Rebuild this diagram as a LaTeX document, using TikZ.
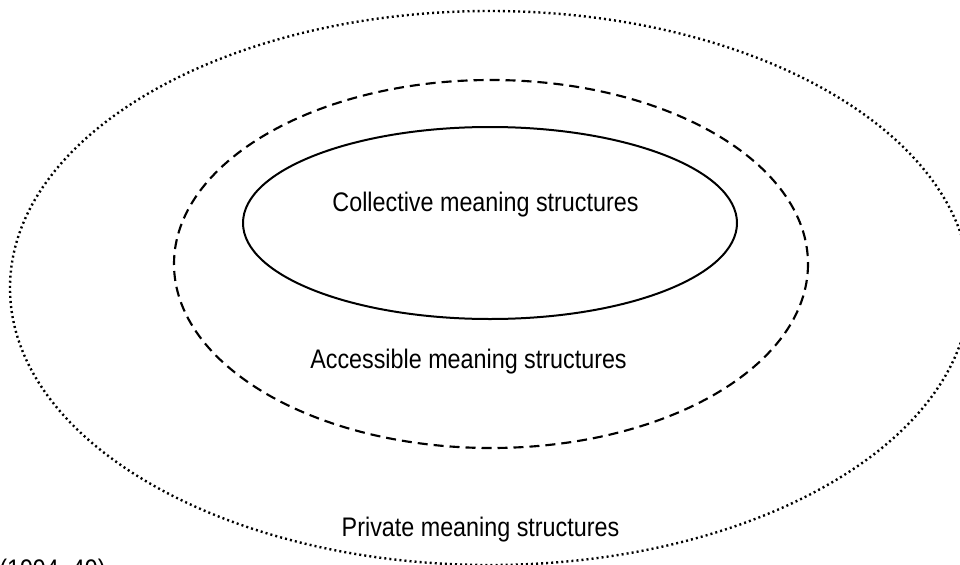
\documentclass[tikz,border=0pt]{standalone}
\usepackage{graphicx}
\usepackage{fontspec}
\setmainfont{Liberation Sans}
\newcommand{\tallsize}[1]{\scalebox{1}[1.15]{\fontsize{17.5pt}{20pt}\selectfont #1}}
\begin{document}
\begin{tikzpicture}[x=0.75pt,y=-0.75pt,
  lbl/.style={inner sep=0pt, anchor=base},
  outerring/.style={line width=1.8pt, dash pattern=on 1.5pt off 2.3pt},
  midring/.style={line width=1.6pt, dash pattern=on 7.5pt off 4.5pt},
  innerring/.style={line width=1.5pt}]
\clip (0,0) rectangle (960,564);
\fill[white] (0,0) rectangle (960,564);
\draw[outerring] (490,288) ellipse [x radius=480, y radius=277];
\draw[midring] (491,264) ellipse [x radius=317, y radius=184];
\draw[innerring] (490,223) ellipse [x radius=247, y radius=96];
\node[lbl] (collective) at (485.5,211) {\tallsize{Collective meaning structures}};
\node[lbl] (accessible) at (468.5,368) {\tallsize{Accessible meaning structures}};
\node[lbl] (private) at (480.5,536) {\tallsize{Private meaning structures}};
\node[lbl, anchor=base west] (source) at (-1,578) {\tallsize{(1994, 49)}};
\end{tikzpicture}
\end{document}
